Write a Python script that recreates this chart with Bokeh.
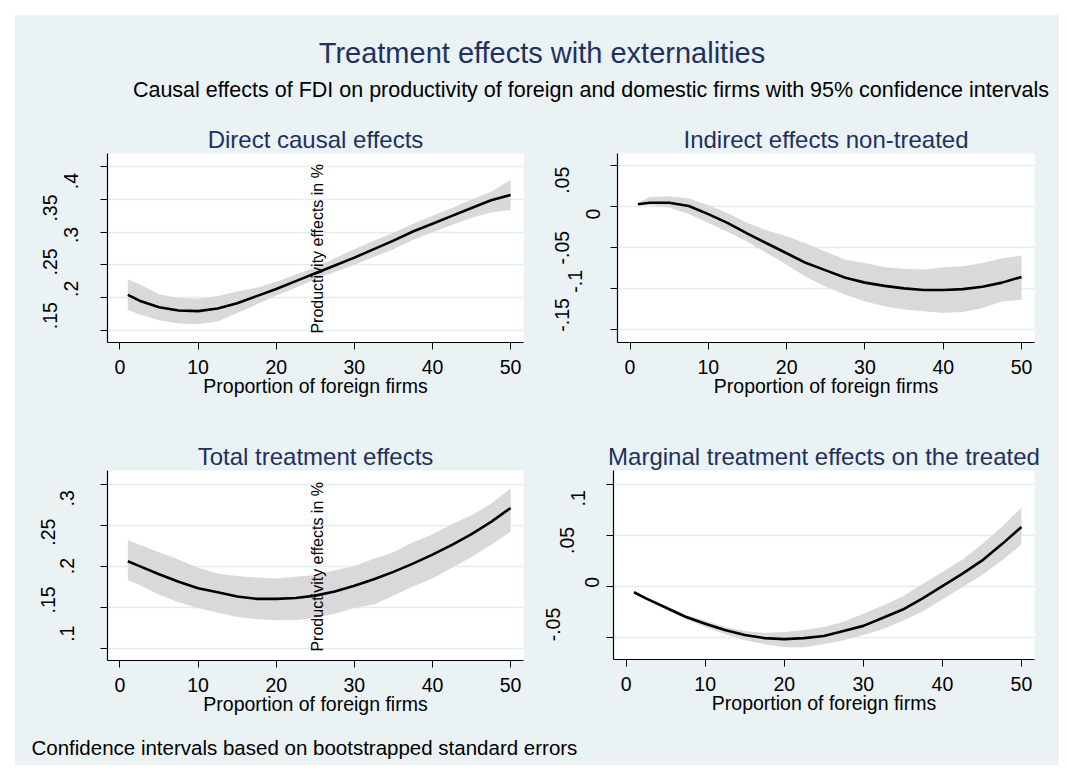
import math
from bokeh.plotting import figure
from bokeh.layouts import column, row
from bokeh.models import Range1d, FixedTicker, Label
from bokeh.core.properties import value
from bokeh.embed import file_html
from bokeh.resources import INLINE

# ---------------- data ----------------
x_share = [1, 2.5, 5, 7.5, 10, 12.5, 15, 17.5, 20, 22.5, 25,
           27.5, 30, 32.5, 35, 37.5, 40, 42.5, 45, 47.5, 50]

direct_est = [.204, .195, .185, .180, .179, .183, .191, .202, .213, .225, .237,
              .249, .261, .274, .287, .301, .313, .325, .337, .349, .357]
direct_lo = [.181, .174, .165, .160, .159, .163, .176, .189, .203, .215, .228,
             .239, .250, .262, .274, .288, .300, .311, .322, .330, .334]
direct_hi = [.228, .220, .205, .199, .198, .202, .209, .215, .224, .235, .246,
             .260, .274, .287, .299, .313, .325, .337, .350, .362, .380]

indirect_est = [.003, .005, .005, .001, -.009, -.020, -.033, -.045, -.057, -.069, -.078,
                -.087, -.093, -.097, -.100, -.102, -.102, -.101, -.098, -.093, -.086]
indirect_lo = [.002, .002, -.001, -.009, -.020, -.031, -.043, -.057, -.071, -.086, -.098,
               -.108, -.116, -.122, -.126, -.128, -.130, -.129, -.124, -.116, -.114]
indirect_hi = [.005, .012, .013, .010, .002, -.008, -.020, -.029, -.036, -.045, -.055,
               -.065, -.069, -.074, -.076, -.077, -.074, -.073, -.069, -.063, -.060]

total_est = [.206, .200, .190, .181, .173, .168, .163, .160, .160, .161, .164,
             .169, .176, .184, .193, .203, .214, .226, .239, .254, .271]
total_lo = [.183, .177, .165, .156, .149, .143, .138, .135, .134, .134, .137,
            .142, .149, .153, .164, .175, .185, .198, .211, .226, .242]
total_hi = [.232, .226, .217, .208, .198, .191, .188, .186, .185, .187, .189,
            .195, .200, .209, .217, .229, .239, .251, .262, .276, .295]

marginal_est = [-.006, -.012, -.021, -.030, -.037, -.043, -.048, -.051, -.052, -.051, -.049,
                -.044, -.039, -.031, -.023, -.012, .000, .012, .025, .041, .058]
marginal_lo = [-.007, -.013, -.023, -.032, -.040, -.047, -.053, -.057, -.060, -.060, -.057,
               -.053, -.048, -.042, -.034, -.025, -.013, -.001, .011, .025, .041]
marginal_hi = [-.005, -.011, -.020, -.028, -.034, -.040, -.044, -.046, -.045, -.043, -.040,
               -.035, -.027, -.019, -.010, .002, .014, .026, .041, .058, .077]

x_ticks = [0, 10, 20, 30, 40, 50]
direct_ticks = [.15, .2, .25, .3, .35, .4]
direct_tick_labels = [".15", ".2", ".25", ".3", ".35", ".4"]
indirect_ticks = [-.15, -.1, -.05, 0.0, .05]
indirect_tick_labels = ["-.15", "-.1", "-.05", "0", ".05"]
total_ticks = [.1, .15, .2, .25, .3]
total_tick_labels = [".1", ".15", ".2", ".25", ".3"]
marginal_ticks = [-.05, 0.0, .05, .1]
marginal_tick_labels = ["-.05", "0", ".05", ".1"]

main_title = "Treatment effects with externalities"
subtitle = "Causal effects of FDI on productivity of foreign and domestic firms with 95% confidence intervals"
note = "Confidence intervals based on bootstrapped standard errors"
x_title = "Proportion of foreign firms"
y_title = "Productivity effects in %"

# ---------------- style ----------------
BG = "#EAF2F3"
NAVY = "#1E3160"
BAND = "#D9D9D9"
GRID = "#E3ECEE"
FONT = "Liberation Sans"
X_START, X_END = -1.6, 51.65
AXIS_PAD = 10          # px between panel canvas edge and its y axis line
STRIP_PAD = 20         # extra vertical room in the label strips
EDGE = 15              # white edge above and left of the graph region

# distance (px) of each rotated y tick label's centre from the y axis line
# (the source graph staggers them)
LABEL_GAP = {
    "direct": [58, 37, 58, 37, 58, 37],
    "indirect": [56, 43, 56, 25, 56],
    "total": [41, 60, 41, 60, 41],
    "marginal": [61, 22, 47, 36],
}


def blank(width, height, color):
    f = figure(width=width, height=height, x_range=Range1d(0, 1), y_range=Range1d(0, 1),
               output_backend="svg", toolbar_location=None,
               x_axis_type=None, y_axis_type=None, min_border=0)
    f.background_fill_color = color
    f.border_fill_color = color
    f.outline_line_color = None
    f.grid.visible = False
    return f


def make_panel(title, est, lo, hi, ticks, tick_labels, gaps, y_lo, y_hi,
               strip_w, width, height, frame_w, mbt, frame_h, side_label=False):
    mbb = height - mbt - frame_h
    mbr = width - AXIS_PAD - frame_w
    p = figure(width=width, height=height,
               x_range=Range1d(X_START, X_END), y_range=Range1d(y_lo, y_hi),
               output_backend="svg", toolbar_location=None,
               min_border_left=AXIS_PAD, min_border_right=mbr,
               min_border_top=mbt, min_border_bottom=mbb)
    p.background_fill_color = "white"
    p.border_fill_color = BG
    p.outline_line_color = None

    p.title.text = title
    p.title.align = "center"
    p.title.text_font = FONT
    p.title.text_font_size = "24px"
    p.title.text_font_style = "normal"
    p.title.text_color = NAVY
    p.title.standoff = 2

    p.xaxis.ticker = FixedTicker(ticks=x_ticks)
    p.xaxis.axis_label = x_title
    p.yaxis.ticker = FixedTicker(ticks=ticks)
    for ax in (p.xaxis, p.yaxis):
        ax.axis_line_color = "black"
        ax.axis_line_width = 1.2
        ax.major_tick_line_color = "black"
        ax.major_tick_out = 7
        ax.major_tick_in = 0
        ax.minor_tick_line_color = None
        ax.major_label_text_font = FONT
        ax.axis_label_text_font = FONT
        ax.axis_label_text_font_size = "19.5px"
        ax.axis_label_text_font_style = "normal"
        ax.axis_label_text_color = "black"
    p.xaxis.major_label_text_color = "black"
    p.xaxis.major_label_text_font_size = "19.5px"
    p.xaxis.major_label_standoff = 10
    p.xaxis.axis_label_standoff = -2
    # y tick labels are drawn in the strip to the left (staggered as in the source)
    p.yaxis.major_label_text_color = None
    p.yaxis.major_label_text_font_size = "1px"
    p.yaxis.major_label_standoff = 0

    p.xgrid.visible = False
    p.ygrid.grid_line_color = GRID
    p.ygrid.grid_line_width = 1.5

    p.varea(x=x_share, y1=lo, y2=hi, fill_color=BAND, fill_alpha=1.0)
    p.line(x_share, est, line_color="black", line_width=2.6)

    if side_label:
        p.add_layout(Label(x=25.3, y=y_lo + 0.047 * (y_hi - y_lo), text=y_title,
                           angle=math.pi / 2, text_align="left", text_baseline="middle",
                           text_font=FONT, text_font_size="16px", text_color="black"))

    ppu_y = frame_h / (y_hi - y_lo)
    pad = STRIP_PAD / ppu_y
    s = figure(width=strip_w, height=height,
               x_range=Range1d(0, strip_w), y_range=Range1d(y_lo - pad, y_hi + pad),
               output_backend="svg", toolbar_location=None,
               x_axis_type=None, y_axis_type=None,
               min_border_left=0, min_border_right=0,
               min_border_top=mbt - STRIP_PAD, min_border_bottom=mbb - STRIP_PAD)
    s.background_fill_color = BG
    s.border_fill_color = BG
    s.outline_line_color = None
    s.grid.visible = False
    s.text(x=[strip_w + AXIS_PAD - g for g in gaps], y=list(ticks), text=list(tick_labels),
           angle=math.pi / 2, text_align="center", text_baseline="middle",
           text_font=value(FONT), text_font_size="19.5px", text_color="black")
    return row(s, p, spacing=0, styles={"background-color": BG})


LEFT_W, RIGHT_W = 525, 519
ROW1_H, ROW2_H = 316, 302

p1 = make_panel("Direct causal effects", direct_est, direct_lo, direct_hi,
                direct_ticks, direct_tick_labels, LABEL_GAP["direct"], 0.1309, 0.4206,
                82, LEFT_W - 82, ROW1_H, 416, 41, 189, side_label=True)
p2 = make_panel("Indirect effects non-treated", indirect_est, indirect_lo, indirect_hi,
                indirect_ticks, indirect_tick_labels, LABEL_GAP["indirect"], -0.1664, 0.0653,
                67, RIGHT_W - 67, ROW1_H, 417, 41, 189)
p3 = make_panel("Total treatment effects", total_est, total_lo, total_hi,
                total_ticks, total_tick_labels, LABEL_GAP["total"], 0.0848, 0.3167,
                82, LEFT_W - 82, ROW2_H, 416, 42, 190, side_label=True)
p4 = make_panel("Marginal treatment effects on the treated", marginal_est, marginal_lo, marginal_hi,
                marginal_ticks, marginal_tick_labels, LABEL_GAP["marginal"], -0.072, 0.1135,
                63, RIGHT_W - 63, ROW2_H, 421, 42, 189)


def text_strip(width, height):
    f = figure(width=width, height=height, x_range=Range1d(0, width), y_range=Range1d(0, height),
               output_backend="svg", toolbar_location=None,
               x_axis_type=None, y_axis_type=None, min_border=0)
    f.background_fill_color = BG
    f.border_fill_color = BG
    f.outline_line_color = None
    f.grid.visible = False
    return f


TOTAL_W = LEFT_W + RIGHT_W
HEADER_H, FOOTER_H = 97, 35
header = text_strip(TOTAL_W, HEADER_H)
header.add_layout(Label(x=526.5, y=60, text=main_title, text_align="center",
                        text_baseline="alphabetic", text_font=FONT, text_font_size="29px",
                        text_color=NAVY))
header.add_layout(Label(x=575.5, y=23, text=subtitle, text_align="center",
                        text_baseline="alphabetic", text_font=FONT, text_font_size="21.5px",
                        text_color="black"))

footer = text_strip(TOTAL_W, FOOTER_H)
footer.add_layout(Label(x=16, y=18, text=note, text_align="left",
                        text_baseline="alphabetic", text_font=FONT, text_font_size="20.5px",
                        text_color="black"))

bgstyle = {"background-color": BG}
r1 = row(p1, p2, spacing=0, styles=bgstyle)
r2 = row(p3, p4, spacing=0, styles=bgstyle)
content = column(header, r1, r2, footer, spacing=0, styles=bgstyle)
CONTENT_H = HEADER_H + ROW1_H + ROW2_H + FOOTER_H
page = column(blank(TOTAL_W + EDGE, EDGE, "white"),
              row(blank(EDGE, CONTENT_H, "white"), content, spacing=0),
              spacing=0)

open("out.html", "w").write(file_html(page, INLINE))
